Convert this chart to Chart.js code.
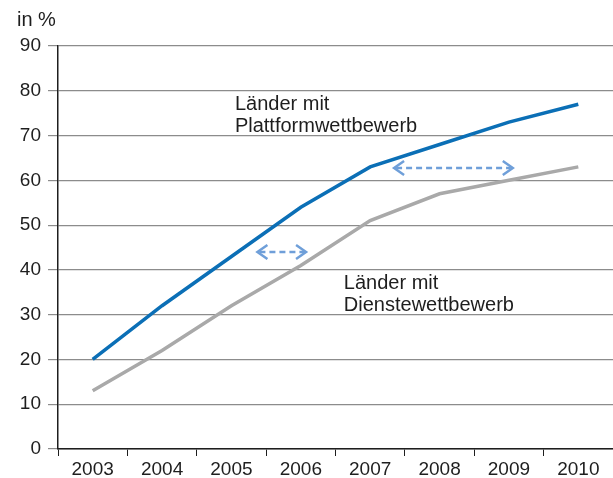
<!DOCTYPE html>
<html>
<head>
<meta charset="utf-8">
<script src="https://cdn.jsdelivr.net/npm/chart.js@4/dist/chart.umd.min.js"></script>
<style>
  html, body { margin: 0; padding: 0; background: #fff; }
  #wrap { width: 613px; height: 478px; position: relative; }
</style>
</head>
<body>
<div id="wrap"><canvas id="chart"></canvas></div>
<script>
// Daten
const jahre = ['2003', '2004', '2005', '2006', '2007', '2008', '2009', '2010'];
const plattform = [20, 32, 43, 54, 63, 68, 73, 77];
const dienste = [13, 22, 32, 41, 51, 57, 60, 63];
const yTicks = [0, 10, 20, 30, 40, 50, 60, 70, 80, 90];

const FONT = '"Liberation Sans", Arial, Helvetica, sans-serif';
const TEXT = '#1e1e1e';

// Beschriftungen und Pfeile (Position in Kategorie-Index / Wert)
const labels = [
  { x: 2.05, y: 75.8, lines: ['Länder mit', 'Plattformwettbewerb'] },
  { x: 3.62, y: 35.8, lines: ['Länder mit', 'Dienstewettbewerb'] }
];
const arrows = [
  { x1: 2.36, x2: 3.09, y: 44.0 },
  { x1: 4.33, x2: 6.07, y: 62.75 }
];

const annotPlugin = {
  id: 'annot',
  afterDatasetsDraw(chart) {
    const { ctx, scales: { x, y } } = chart;
    ctx.save();
    ctx.fillStyle = TEXT;
    ctx.font = '20px ' + FONT;
    ctx.textAlign = 'left';
    ctx.textBaseline = 'alphabetic';
    labels.forEach(l => {
      const px = x.getPixelForValue(l.x);
      const py = y.getPixelForValue(l.y);
      l.lines.forEach((t, i) => ctx.fillText(t, px, py + i * 22));
    });
    // Pfeile
    ctx.strokeStyle = '#6f9fd9';
    ctx.lineWidth = 2.5;
    arrows.forEach(a => {
      const x1 = x.getPixelForValue(a.x1);
      const x2 = x.getPixelForValue(a.x2);
      const py = y.getPixelForValue(a.y);
      ctx.setLineDash([6, 4]);
      ctx.beginPath();
      ctx.moveTo(x1 + 3, py);
      ctx.lineTo(x2 - 3, py);
      ctx.stroke();
      ctx.setLineDash([]);
      ctx.beginPath();
      ctx.moveTo(x1 + 11, py - 7);
      ctx.lineTo(x1 + 1, py);
      ctx.lineTo(x1 + 11, py + 7);
      ctx.moveTo(x2 - 11, py - 7);
      ctx.lineTo(x2 - 1, py);
      ctx.lineTo(x2 - 11, py + 7);
      ctx.stroke();
    });
    // Einheit
    ctx.fillText('in %', 17, 26);
    ctx.restore();
  }
};

new Chart(document.getElementById('chart'), {
  type: 'line',
  data: {
    labels: jahre,
    datasets: [
      {
        label: 'Länder mit Plattformwettbewerb',
        data: plattform,
        borderColor: '#0b6fb6',
        borderWidth: 3.5,
        pointRadius: 0,
        tension: 0
      },
      {
        label: 'Länder mit Dienstewettbewerb',
        data: dienste,
        borderColor: '#a9a9a9',
        borderWidth: 3.5,
        pointRadius: 0,
        tension: 0
      }
    ]
  },
  options: {
    responsive: true,
    maintainAspectRatio: false,
    animation: false,
    layout: { padding: { top: 46, right: 0, bottom: 0, left: 0 } },
    plugins: {
      legend: { display: false },
      tooltip: { enabled: false }
    },
    scales: {
      x: {
        offset: true,
        afterFit: s => { s.height = 29; },
        grid: {
          offset: true,
          drawOnChartArea: false,
          drawTicks: true,
          tickLength: 7,
          color: TEXT,
          lineWidth: 1
        },
        border: { color: TEXT, width: 1.5 },
        ticks: {
          color: TEXT,
          font: { family: FONT, size: 19 },
          padding: 2,
          maxRotation: 0,
          autoSkip: false
        }
      },
      y: {
        min: 0,
        max: 90,
        afterFit: s => { s.width = 58; },
        afterBuildTicks: s => { s.ticks = yTicks.map(v => ({ value: v })); },
        grid: {
          color: '#8c8c8c',
          lineWidth: 1.2,
          tickLength: 10
        },
        border: { color: TEXT, width: 1.5 },
        ticks: {
          color: TEXT,
          font: { family: FONT, size: 19 },
          padding: 7
        }
      }
    }
  },
  plugins: [annotPlugin]
});
</script>
</body>
</html>
